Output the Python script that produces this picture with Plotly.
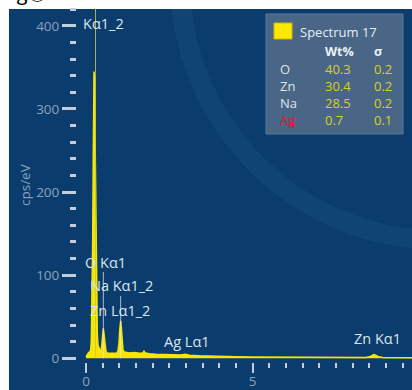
import plotly.graph_objects as go

# EDS spectrum (energy in keV, intensity in cps/eV)
energy = [0.00, 0.04, 0.08, 0.12, 0.14, 0.16, 0.18, 0.20, 0.22, 0.24, 0.26, 0.28,
          0.30, 0.32, 0.34, 0.36, 0.38, 0.41, 0.44, 0.47, 0.50, 0.52, 0.54, 0.57,
          0.60, 0.65, 0.75, 0.85, 0.92, 0.96, 0.99, 1.01, 1.04, 1.06, 1.08, 1.11,
          1.15, 1.20, 1.30, 1.45, 1.60, 1.70, 1.74, 1.78, 1.90, 2.10, 2.35, 2.60,
          2.85, 2.98, 3.10, 3.40, 3.70, 4.00, 4.50, 5.00, 5.50, 6.00, 6.50, 7.00,
          7.50, 8.00, 8.40, 8.50, 8.58, 8.64, 8.70, 8.78, 8.90, 9.20, 9.50, 9.80]
cps = [2, 5, 7, 8, 10, 22, 60, 140, 250, 345, 335, 240,
       130, 60, 28, 16, 12, 10, 9, 14, 28, 36, 29, 13,
       8, 6, 6, 5.5, 6, 9, 18, 33, 45, 37, 20, 10,
       7.5, 7, 6.5, 7, 6, 6.5, 8.5, 6.5, 5.5, 5, 4.5, 4,
       4, 5, 3.8, 3, 2.5, 2.2, 1.8, 1.6, 1.4, 1.2, 1.1, 1.0,
       0.9, 0.9, 1.0, 1.8, 3.5, 4.5, 3.5, 1.8, 1.0, 0.8, 0.7, 0.6]

# element marker lines
marker_energy = [0.285, 0.52, 1.04]
marker_height = [421, 104, 75]
marker_color = ["rgba(190,200,80,0.85)", "rgba(225,231,238,0.75)", "rgba(225,231,238,0.75)"]

# peak labels
peak_labels = ["Kα1_2", "O Kα1", "Na Kα1_2", "Zn Lα1_2", "Ag Lα1", "Zn Kα1"]

# quantification table
spectrum_name = "Spectrum 17"
elements = ["O", "Zn", "Na", "Ag"]
wt_pct = ["40.3", "30.4", "28.5", "0.7"]
sigma = ["0.2", "0.2", "0.2", "0.1"]

W, H = 412, 390
PL, PR, PT, PB = 77, 412, 8, 362
X_RANGE = [-0.27, 9.78]
Y_RANGE = [-4.45, 421.5]

NAVY = "#0a3c6d"
RING = "#0f4474"
TICK = "#c3cddb"
TICKLABEL = "#8ea2bc"
LABEL = "#dce3ea"
FONT = "Open Sans"


def px(x):
    return (x - PL) / (PR - PL)


def py(y):
    return (PB - y) / (PB - PT)


def kev(x):
    return X_RANGE[0] + (x - PL) / (PR - PL) * (X_RANGE[1] - X_RANGE[0])


def val(y):
    return Y_RANGE[0] + (PB - y) / (PB - PT) * (Y_RANGE[1] - Y_RANGE[0])


fig = go.Figure()

fig.add_trace(go.Scatter(
    x=energy, y=cps, mode="lines", fill="tozeroy", name=spectrum_name,
    fillcolor="#f7e600", line=dict(color="#f7e600", width=1.5),
    showlegend=False, hoverinfo="skip",
))

for e, h, c in zip(marker_energy, marker_height, marker_color):
    fig.add_trace(go.Scatter(
        x=[e, e], y=[0, h], mode="lines",
        line=dict(color=c, width=1),
        showlegend=False, hoverinfo="skip",
    ))

shapes = [
    # dark panel
    dict(type="rect", xref="paper", yref="paper", x0=px(9), x1=1, y0=py(H), y1=py(9),
         fillcolor=NAVY, line=dict(width=0), layer="below"),
    # soft ring in the panel background
    dict(type="circle", xref="paper", yref="paper",
         x0=px(440 - 270), x1=px(440 + 270), y0=py(-20 + 270), y1=py(-20 - 270),
         fillcolor=RING, line=dict(width=0), layer="below"),
    dict(type="circle", xref="paper", yref="paper",
         x0=px(440 - 250), x1=px(440 + 250), y0=py(-20 + 250), y1=py(-20 - 250),
         fillcolor=NAVY, line=dict(width=0), layer="below"),
    # white page strip above the panel
    dict(type="rect", xref="paper", yref="paper", x0=px(0), x1=1, y0=py(9), y1=py(-2),
         fillcolor="white", line=dict(width=0), layer="below"),
    # quantification box
    dict(type="rect", xref="paper", yref="paper", x0=px(266), x1=px(403), y0=py(134), y1=py(14),
         fillcolor="#4a6686", line=dict(color="#5d7896", width=1), layer="above"),
    dict(type="rect", xref="paper", yref="paper", x0=px(274), x1=px(292), y0=py(39), y1=py(23),
         fillcolor="#ffe800", line=dict(color="#c9b800", width=1), layer="above"),
]

annotations = []


def note(text, x, y, color, size, xanchor="left", bold=False, family=FONT, angle=0):
    annotations.append(dict(
        text=f"<b>{text}</b>" if bold else text, xref="paper", yref="paper",
        x=px(x), y=py(y), xanchor=xanchor, yanchor="middle", showarrow=False,
        textangle=angle, font=dict(color=color, size=size, family=family),
    ))


# peak labels placed in data space
label_px = [(81, 23), (83, 262), (88, 285), (88, 310), (162, 341), (352, 338)]
for text, (lx, ly) in zip(peak_labels, label_px):
    annotations.append(dict(
        text=text, xref="x", yref="y", x=kev(lx), y=val(ly),
        xanchor="left", yanchor="middle", showarrow=False,
        font=dict(color=LABEL, size=14.5, family=FONT),
    ))

# table
note(spectrum_name, 298, 32, "#e8edf3", 13)
note("Wt%", 323, 52, "#eef2f6", 12.5, bold=True)
note("σ", 372, 52, "#eef2f6", 12.5, bold=True)
row_y = [69, 86, 103, 120]
for el, w, s, ry in zip(elements, wt_pct, sigma, row_y):
    note(el, 278, ry, "#e8102a" if el == "Ag" else "#dfe5ec", 13)
    note(w, 323, ry, "#d8d21e", 13)
    note(s, 372, ry, "#d8d21e", 13)

# axis title
note("cps/eV", 25, 185, TICKLABEL, 13.5, xanchor="center", angle=-90)

# caption fragment at the page top
note("g①", 14, -8, "black", 20, family="Noto Sans CJK SC")

fig.update_layout(
    width=W, height=H,
    margin=dict(l=PL, r=W - PR, t=PT, b=H - PB, pad=0, autoexpand=False),
    paper_bgcolor="white", plot_bgcolor="rgba(0,0,0,0)",
    shapes=shapes, annotations=annotations, showlegend=False,
    xaxis=dict(
        range=X_RANGE, showgrid=False, zeroline=False, showline=False, automargin=False,
        ticks="outside", ticklen=10, tickwidth=2, tickcolor=TICK, ticklabelstandoff=-3,
        tick0=0, dtick=5, tickfont=dict(color=TICKLABEL, size=13.5, family=FONT),
        minor=dict(ticks="outside", ticklen=5, tickwidth=2, tickcolor=TICK,
                   tick0=0, dtick=0.5, showgrid=False),
    ),
    yaxis=dict(
        range=Y_RANGE, showgrid=False, zeroline=False, showline=False, automargin=False,
        ticks="outside", ticklen=14, tickwidth=2.5, tickcolor=TICK,
        tick0=0, dtick=100, tickfont=dict(color=TICKLABEL, size=13.5, family=FONT),
        minor=dict(ticks="outside", ticklen=6, tickwidth=3, tickcolor=TICK,
                   tick0=0, dtick=20, showgrid=False),
    ),
)

fig.write_html("out.html")
